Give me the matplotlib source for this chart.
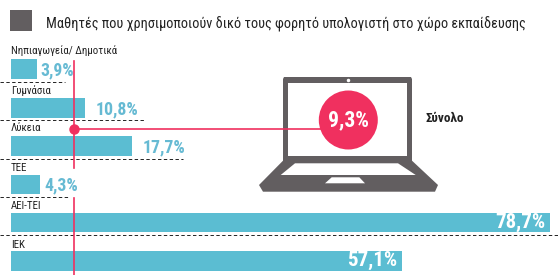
import matplotlib
matplotlib.use('Agg')
import matplotlib.pyplot as plt
from matplotlib.patches import Polygon, Circle, Rectangle

plt.rcParams['font.family'] = ['Roboto Condensed', 'Fira Sans Condensed', 'Liberation Sans', 'DejaVu Sans']

title = 'Μαθητές που χρησιμοποιούν δικό τους φορητό υπολογιστή στο χώρο εκπαίδευσης'
categories = ['Νηπιαγωγεία/ Δημοτικά', 'Γυμνάσια', 'Λύκεια', 'ΤΕΕ', 'ΑΕΙ-ΤΕΙ', 'ΙΕΚ']
values = [3.9, 10.8, 17.7, 4.3, 78.7, 57.1]
total = 9.3
total_label = 'Σύνολο'

BLUE = '#5bbdd2'
LABEL_BLUE = '#66bad3'
PINK = '#f0305f'
GRAY = '#625e60'

W, H = 558, 275
PX = 6.855  # pixels per percent
X0 = 10.5

fig = plt.figure(figsize=(W / 100, H / 100), dpi=100)
ax = fig.add_axes([0, 0, 1, 1])
ax.set_xlim(-X0 / PX, (W - X0) / PX)
ax.set_ylim(H, 0)
ax.axis('off')

def px(x):
    # pixel x -> data x
    return (x - X0) / PX

bar_y = [69, 108, 146, 184.5, 222.5, 261]
label_y = [51, 90.5, 128, 168, 206, 245]
dash_y = [82, 120, 158.5, 197, 235]
dash_end = [65, 144, 183, 68, 558]
val_off = [3, 11, 11, 4.5, None, None]

ax.barh(bar_y, values, height=19.5, left=0, color=BLUE, zorder=2)

for y, xe in zip(dash_y, dash_end):
    ax.plot([px(0), px(xe)], [y, y], color='#222222', lw=0.7, dashes=(3.5, 2.5), zorder=3)

# vertical marker line for the total, broken around the TEE label
ax.plot([total, total], [61, 168], color=PINK, lw=1.2, zorder=4)
ax.plot([total, total], [197.5, H], color=PINK, lw=1.2, zorder=4)
ax.plot([total, px(322)], [128.5, 128.5], color=PINK, lw=1.2, zorder=4)
ax.plot([total], [128.5], 'o', color=PINK, ms=6.5, zorder=5)

for name, y in zip(categories, label_y):
    ax.text(px(11), y, name, fontsize=7.8, color='#222222', va='center', ha='left', zorder=6)

for i, v in enumerate(values):
    s = f'{v:.1f}'.replace('.', ',') + '%'
    if v > 50:
        ax.text(v - 5 / PX, bar_y[i] - 0.5, s, color='white', fontsize=15, fontweight='bold',
                va='center', ha='right', zorder=6)
    else:
        ax.text(v + val_off[i] / PX, bar_y[i] + 1, s, color=LABEL_BLUE, fontsize=12.8, fontweight='bold',
                va='center', ha='left', zorder=6)

# title with square
ax.add_patch(Rectangle((px(10), 9.5), 22 / PX, 21, color=GRAY, lw=0))
ax.text(px(46), 24, title, fontsize=10.3, color='#222222', va='center', ha='left')

# laptop
def poly(pts, color, z):
    ax.add_patch(Polygon([(px(a), b) for a, b in pts], closed=True, color=color, lw=0, zorder=z))

poly([(284, 77), (411, 77), (412, 79), (412, 161), (283, 161), (283, 79)], GRAY, 3)
poly([(288, 82.7), (407, 82.7), (407, 155.7), (288, 155.7)], 'white', 3.1)
poly([(283, 160.7), (412, 160.7), (438, 185), (435, 191.7), (263, 191.7), (259, 185)], GRAY, 3)
poly([(295, 163.3), (398, 163.3), (415.7, 175), (280.7, 175)], 'white', 3.1)
poly([(331.7, 177.3), (359.3, 177.3), (365, 183.3), (325, 183.3)], 'white', 3.1)
ax.plot([px(348)], [79.7], 'o', color='white', ms=1.5, zorder=3.2)

# circle drawn in display space so it stays round
ax.add_patch(Circle((348.3, H - 120), 29.5, transform=None, color=PINK, lw=0, zorder=6))
ax.text(px(348.3), 120, f'{total:.1f}'.replace('.', ',') + '%', color='white', fontsize=15.5,
        fontweight='bold', va='center', ha='center', zorder=7)
ax.text(px(426), 119, total_label, fontsize=9.5, fontweight='bold', color='#222222', va='center', ha='left')

fig.savefig('out.png', dpi=100)
